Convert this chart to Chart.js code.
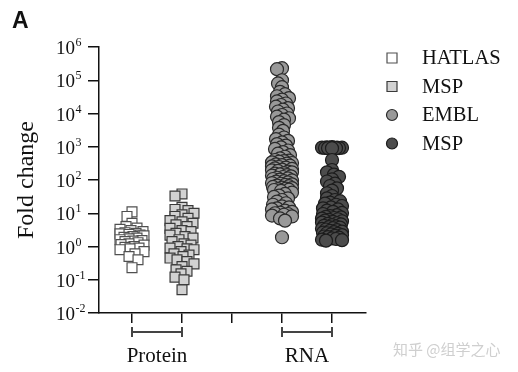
<!DOCTYPE html>
<html>
<head>
<meta charset="utf-8">
<script src="https://cdn.jsdelivr.net/npm/chart.js@4"></script>
<style>
html,body{margin:0;padding:0;background:#fff;}
#wrap{width:518px;height:372px;position:relative;}
</style>
</head>
<body>
<div id="wrap"><canvas id="c" width="518" height="372"></canvas></div>
<script>
// ---- data ----
const seriesNames = ["HATLAS", "MSP", "EMBL", "MSP"];
const groupNames = ["Protein", "RNA"];
const seriesPositions = [1, 2, 4, 5];
const groupSpans = [[1, 2], [4, 5]];
const xTickValues = [1, 2, 3, 4, 5];
const yTickExponents = [-2, -1, 0, 1, 2, 3, 4, 5, 6];

const hatlasProtein = [11, 8, 5, 4, 3.6, 3.3, 3.0, 2.8, 2.6, 2.5, 2.4, 2.3, 2.2, 2.1, 2.0, 1.9, 1.8,
  1.7, 1.6, 1.5, 1.45, 1.4, 1.3, 1.2, 1.15, 1.1, 1.0, 0.95, 0.9, 0.85, 0.8, 0.7, 0.6, 0.5, 0.4, 0.23];

const mspProtein = [38, 33, 15, 13, 12, 10, 9, 8, 7, 6, 5.5, 5, 4.5, 4, 3.5, 3, 2.8, 2.5, 2.2, 2,
  1.8, 1.6, 1.4, 1.2, 1.1, 1, 0.9, 0.85, 0.8, 0.7, 0.6, 0.55, 0.5, 0.45, 0.4, 0.35, 0.3, 0.25,
  0.2, 0.18, 0.15, 0.12, 0.1, 0.05];

const emblRna = [230000, 215000,
  100000, 80000, 62000, 45000,
  38000, 33000, 29000, 26000, 23000, 20000, 18000, 16000, 14500, 13000, 11500, 10000, 9000,
  8000, 7200, 6500,
  5500, 4500, 3700, 3000, 2300,
  1900, 1700, 1500, 1350, 1200, 1080, 960, 860, 770, 690, 620, 560, 500, 450,
  400, 385, 370, 355, 340, 325, 310, 295, 282, 270, 258, 246, 235, 225, 215, 205, 196, 187,
  178, 170, 162, 155, 148, 141, 135, 129, 123, 117, 112, 107, 102, 97, 93, 89, 85, 81, 77, 74,
  71, 68, 65, 62, 59, 57, 55, 53, 51, 50,
  47, 42, 38, 34, 31, 28, 25, 22.5, 20, 18,
  16, 15, 14, 13, 12, 11, 10.5, 10, 9.5, 9, 8.5, 8, 7, 6,
  1.9];

const mspRna = [980, 960, 950, 940, 935, 930, 925, 920, 915, 910, 905, 900,
  400,
  200, 170, 145, 125, 105, 90, 78, 66, 56, 48, 40, 33, 28,
  25, 23, 21, 19.5, 18, 16.5, 15, 14, 13, 12, 11, 10.2, 9.5, 8.8, 8.2,
  7.8, 7.5, 7.2, 6.9, 6.6, 6.3, 6.0, 5.75, 5.5, 5.25, 5.0, 4.8, 4.6, 4.4, 4.2, 4.0, 3.85, 3.7,
  3.55, 3.4, 3.25, 3.1, 2.95, 2.8, 2.7, 2.6, 2.5, 2.4, 2.3, 2.2, 2.1, 2.0, 1.92, 1.84, 1.76,
  1.68, 1.6, 1.55, 1.5];

const seriesValues = [hatlasProtein, mspProtein, emblRna, mspRna];

// ---- styles ----
const serif = "'Liberation Serif', 'Times New Roman', serif";
const styles = [
  {shape: 'rect', fill: '#ffffff', border: '#505050', r: 7, gap: 6.5, spread: 12},
  {shape: 'rect', fill: '#d2d2d2', border: '#3a3a3a', r: 7, gap: 6.5, spread: 12},
  {shape: 'circle', fill: '#999999', border: '#2a2a2a', r: 6.5, gap: 5, spread: 10},
  {shape: 'circle', fill: '#4c4c4c', border: '#1c1c1c', r: 6.5, gap: 5, spread: 10}
];
const PX_PER_DECADE = 33.3;
const PX_PER_UNIT = 50;

// simple beeswarm layout (horizontal offsets) computed from the values
function swarm(vals, D, maxW) {
  const pts = vals.map((v, i) => ({i, py: Math.log10(v) * PX_PER_DECADE, dx: 0}));
  const order = pts.slice().sort((a, b) => b.py - a.py);
  const placed = [];
  for (const p of order) {
    let best = 0, bestScore = -1;
    for (let k = 0; k <= 2 * maxW; k++) {
      const dx = (k % 2 === 1 ? -1 : 1) * Math.ceil(k / 2);
      let md = Infinity;
      for (const q of placed) {
        const dy = q.py - p.py;
        if (Math.abs(dy) < D) {
          const d = Math.hypot(q.dx - dx, dy);
          if (d < md) md = d;
        }
      }
      if (md >= D) { best = dx; bestScore = Infinity; break; }
      if (md > bestScore + 0.01) { bestScore = md; best = dx; }
    }
    p.dx = best;
    placed.push(p);
  }
  return pts.map(p => p.dx / PX_PER_UNIT);
}

const datasets = seriesValues.map((vals, s) => {
  const offs = swarm(vals, styles[s].gap, styles[s].spread);
  return {
    label: seriesNames[s],
    data: vals.map((v, i) => ({x: seriesPositions[s] + offs[i], y: v})),
    pointStyle: styles[s].shape,
    pointRadius: styles[s].r,
    pointHoverRadius: styles[s].r,
    backgroundColor: styles[s].fill,
    borderColor: styles[s].border,
    pointBorderWidth: 1.2,
    showLine: false
  };
});

const decor = {
  id: 'decor',
  afterDraw(chart) {
    const ctx = chart.ctx;
    const ys = chart.scales.y, xs = chart.scales.x;
    ctx.save();
    // y tick labels 10^n
    ctx.fillStyle = '#111';
    yTickExponents.forEach(e => {
      const py = ys.getPixelForValue(Math.pow(10, e));
      ctx.font = '19px ' + serif;
      ctx.textAlign = 'left';
      ctx.textBaseline = 'alphabetic';
      const bx = 56;
      ctx.fillText('10', bx, py + 7);
      const w = ctx.measureText('10').width;
      ctx.font = '12px ' + serif;
      ctx.fillText(e < 0 ? '-' + (-e) : String(e), bx + w + 0.5, py - 1);
    });
    // group brackets and labels
    ctx.strokeStyle = '#444';
    ctx.lineWidth = 2;
    groupSpans.forEach((sp, g) => {
      const x1 = xs.getPixelForValue(sp[0]);
      const x2 = xs.getPixelForValue(sp[1]);
      const yb = chart.chartArea.bottom + 19;
      ctx.beginPath();
      ctx.moveTo(x1, yb); ctx.lineTo(x2, yb);
      ctx.moveTo(x1, yb - 5); ctx.lineTo(x1, yb + 5);
      ctx.moveTo(x2, yb - 5); ctx.lineTo(x2, yb + 5);
      ctx.stroke();
      ctx.fillStyle = '#111';
      ctx.font = '21px ' + serif;
      ctx.textAlign = 'center';
      ctx.textBaseline = 'alphabetic';
      ctx.fillText(groupNames[g], (x1 + x2) / 2, yb + 30);
    });
    // legend
    seriesNames.forEach((name, s) => {
      const cy = 58 + s * 28.5;
      const cx = 392;
      const st = styles[s];
      ctx.fillStyle = st.fill;
      ctx.strokeStyle = st.border;
      ctx.lineWidth = 1.2;
      ctx.beginPath();
      if (st.shape === 'rect') ctx.rect(cx - 5, cy - 5, 10, 10);
      else ctx.arc(cx, cy, 5.5, 0, Math.PI * 2);
      ctx.fill(); ctx.stroke();
      ctx.fillStyle = '#111';
      ctx.font = '20.5px ' + serif;
      ctx.textAlign = 'left';
      ctx.textBaseline = 'middle';
      ctx.fillText(name, 422, cy + 1);
    });
    // panel letter
    ctx.font = 'bold 23px "Liberation Sans", Arial, sans-serif';
    ctx.textAlign = 'left';
    ctx.textBaseline = 'alphabetic';
    ctx.fillStyle = '#111';
    ctx.fillText('A', 12, 28);
    // watermark
    ctx.font = '15px "Noto Sans CJK SC", sans-serif';
    ctx.fillStyle = '#cfcfcf';
    ctx.fillText('知乎 @组学之心', 393, 355);
    ctx.restore();
  }
};

new Chart(document.getElementById('c'), {
  type: 'scatter',
  data: {datasets},
  plugins: [decor],
  options: {
    responsive: false,
    animation: false,
    devicePixelRatio: 1,
    layout: {padding: {top: 47, right: 152, bottom: 0, left: 0}},
    plugins: {legend: {display: false}, tooltip: {enabled: false}},
    scales: {
      x: {
        type: 'linear', min: 0.34, max: 5.68,
        afterBuildTicks: sc => { sc.ticks = xTickValues.map(v => ({value: v})); },
        afterFit: sc => { sc.height = 59; },
        ticks: {display: false},
        grid: {drawOnChartArea: false, drawTicks: true, tickLength: 10, color: '#111', lineWidth: 1.5},
        border: {display: true, color: '#111', width: 1.5}
      },
      y: {
        type: 'logarithmic', min: 0.01, max: 1e6,
        afterBuildTicks: sc => { sc.ticks = yTickExponents.map(e => ({value: Math.pow(10, e)})); },
        afterFit: sc => { sc.width = 99; },
        ticks: {display: false},
        grid: {drawOnChartArea: false, drawTicks: true, tickLength: 11, color: '#111', lineWidth: 1.5},
        border: {display: true, color: '#111', width: 1.5},
        title: {
          display: true, text: 'Fold change', color: '#111',
          font: {family: serif, size: 24, lineHeight: 1},
          padding: {top: 15, bottom: 0}
        }
      }
    }
  }
});
</script>
</body>
</html>
